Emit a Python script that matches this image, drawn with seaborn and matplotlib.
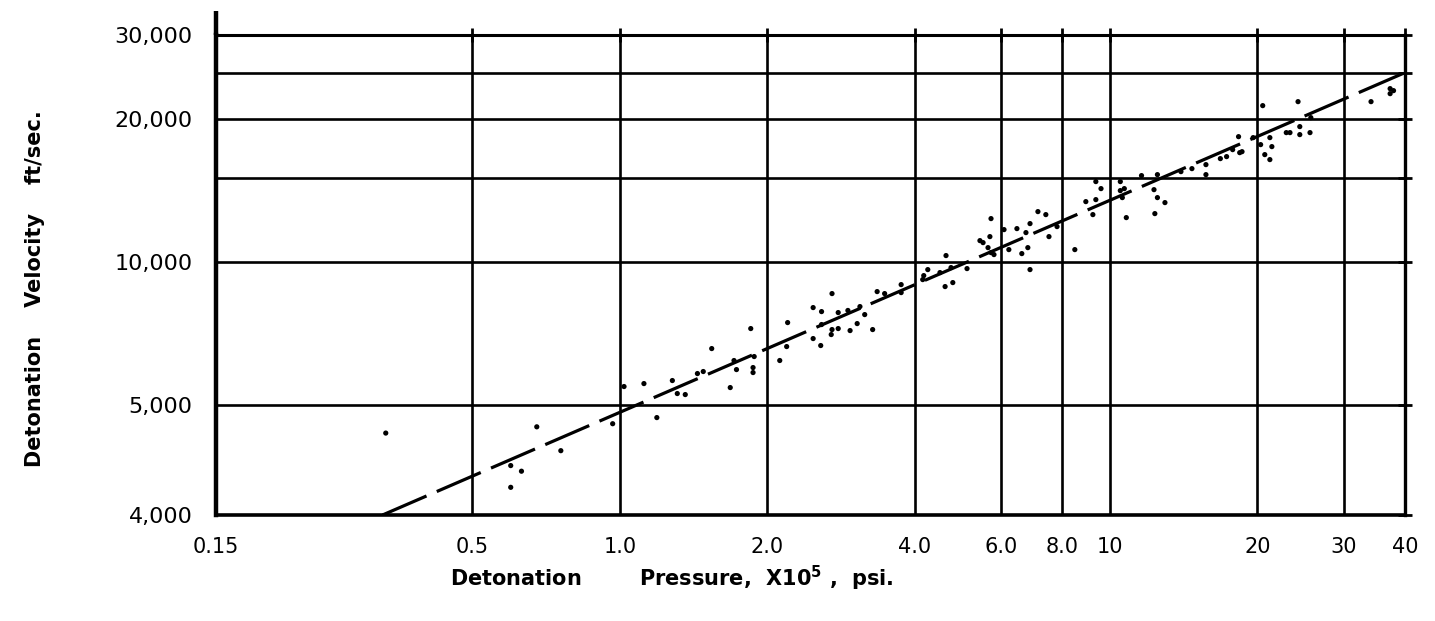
import numpy as np
import pandas as pd
import matplotlib
matplotlib.use("Agg")
import matplotlib.pyplot as plt
import matplotlib.ticker as mticker
import seaborn as sns

# detonation pressure (x 10^5 psi) and velocity (ft/sec)
pressure = [0.333, 0.677, 0.599, 0.630, 0.599, 0.758, 0.967, 1.02, 1.12, 1.19,
            1.28, 1.31, 1.36, 1.44, 1.48, 1.54, 1.68, 1.71, 1.73, 1.85,
            1.87, 1.87, 1.88, 2.12, 2.20, 2.19, 2.48, 2.48, 2.57, 2.58,
            2.58, 2.71, 2.70, 2.79, 2.95, 3.05, 2.71, 3.16, 3.28, 3.35,
            3.47, 2.79, 2.92, 3.09, 3.75, 3.75, 4.17, 4.25, 4.15, 4.50,
            4.61, 4.78, 4.63, 4.74, 5.11, 5.43, 5.51, 5.64, 5.72, 5.69,
            5.72, 5.80, 6.08, 6.22, 6.46, 6.61, 6.80, 6.87, 6.87, 6.74,
            7.13, 7.40, 7.51, 7.80, 8.48, 8.93, 9.23, 9.36, 9.36, 9.59,
            10.5, 10.7, 10.5, 10.6, 10.8, 11.6, 12.3, 12.5, 12.5, 12.95,
            12.35, 13.96, 14.7, 15.7, 15.7, 16.8, 17.3, 17.8, 18.3, 18.4,
            18.6, 19.6, 20.5, 20.3, 20.7, 21.2, 21.4, 21.2, 22.9, 23.3,
            24.4, 24.4, 25.6, 24.2, 25.7, 34.1, 37.3, 37.9, 37.3]
velocity = [4720, 4780, 4420, 4370, 4230, 4555, 4810, 5456, 5535, 4870,
            5617, 5274, 5248, 5811, 5868, 6559, 5429, 6189, 5924, 7227,
            5982, 5839, 6310, 6190, 7440, 6623, 8001, 6885, 6656, 7847,
            7369, 8563, 7020, 7227, 7157, 7404, 7192, 7734, 7192, 8646,
            8563, 7810, 7890, 8040, 8944, 8604, 9343, 9619, 9164, 9481,
            8859, 9032, 10296, 9713, 9666, 11070, 10963, 10700, 12317, 11287,
            10445, 10345, 11677, 10598, 11734, 10395, 10700, 12022, 9619, 11509,
            12742, 12558, 11287, 11849, 10598, 13374, 12558, 13505, 14738, 14245,
            14108, 14245, 14738, 13637, 12377, 15172, 14173, 15244, 13637, 13311,
            12619, 15467, 15694, 16002, 15244, 16475, 16636, 17208, 18326, 16958,
            17040, 18240, 21300, 17632, 16798, 18240, 17462, 16396, 18688, 18688,
            19240, 18508, 18688, 21716, 20096, 21716, 23130, 22907, 22575]

# dashed trend line end points
fit_p = [0.328, 40.0]
fit_v = [4000, 25000]

x_ticks = [0.15, 0.5, 1.0, 2.0, 4.0, 6.0, 8.0, 10, 20, 30, 40]
x_labels = ["0.15", "0.5", "1.0", "2.0", "4.0", "6.0", "8.0", "10", "20", "30", "40"]
y_ticks = [4000, 5000, 10000, 15000, 20000, 25000, 30000]
y_labels = ["4,000", "5,000", "10,000", "", "20,000", "", "30,000"]

df = pd.DataFrame({"pressure": pressure, "velocity": velocity})

# the printed y axis is logarithmic, but the 4,000-5,000 band is stretched
L5 = np.log10(5000)
K = 2.4


def y_fwd(v):
    lv = np.log10(np.clip(np.asarray(v, dtype=float), 1e-9, None))
    return np.where(lv >= L5, lv, L5 - (L5 - lv) * K)


def y_inv(u):
    u = np.asarray(u, dtype=float)
    return np.where(u >= L5, 10 ** u, 10 ** (L5 - (L5 - u) / K))


sns.set_style("white")
plt.rcParams["font.family"] = ["DejaVu Sans"]
plt.rcParams["text.color"] = "black"

fig = plt.figure(figsize=(14.35, 6.21), dpi=100)
ax = fig.add_axes([216 / 1435, 1 - 515 / 621, (1405 - 216) / 1435, (515 - 35) / 621])

ax.set_xscale("log")
ax.set_yscale("function", functions=(y_fwd, y_inv))

sns.scatterplot(data=df, x="pressure", y="velocity", ax=ax, color="black",
                s=14, edgecolor="none", zorder=3)
sns.lineplot(x=fit_p, y=fit_v, ax=ax, color="black", lw=2.3,
             linestyle=(0, (15, 3.5)), zorder=4)

ax.set_xlim(0.15, 40)
ax.set_ylim(4000, 30000)

ax.xaxis.set_major_locator(mticker.FixedLocator(x_ticks))
ax.xaxis.set_major_formatter(mticker.FixedFormatter(x_labels))
ax.xaxis.set_minor_locator(mticker.NullLocator())
ax.yaxis.set_major_locator(mticker.FixedLocator(y_ticks))
ax.yaxis.set_major_formatter(mticker.FixedFormatter(y_labels))
ax.yaxis.set_minor_locator(mticker.NullLocator())

ax.grid(True, which="major", color="black", lw=1.9)
ax.set_axisbelow(True)
ax.tick_params(axis="both", which="major", direction="inout", length=10, width=2,
               top=True, right=True, colors="black", labelcolor="black")
ax.tick_params(axis="x", labelsize=15, pad=11)
ax.tick_params(axis="y", labelsize=16, pad=12)

for side, w in [("left", 3.2), ("bottom", 2.6), ("top", 2.2), ("right", 2.4)]:
    ax.spines[side].set_visible(True)
    ax.spines[side].set_color("black")
    ax.spines[side].set_linewidth(w)

# left axis line runs a little past the top of the frame
ax.plot([0, 0], [1, 1.05], transform=ax.transAxes, color="black", lw=3.2,
        clip_on=False, solid_capstyle="butt")

ax.set_xlabel("")
ax.set_ylabel("")
fig.text(35 / 1435, 0.535, "Detonation    Velocity    ft/sec.", rotation=90,
         ha="center", va="center", fontsize=15, fontweight="bold", color="black")
fig.text(0.468, 1 - 578 / 621,
         r"Detonation        Pressure,  X10$^{\mathbf{5}}$ ,  psi.",
         ha="center", va="center", fontsize=15, fontweight="bold", color="black")

fig.savefig("out.png", dpi=100)
